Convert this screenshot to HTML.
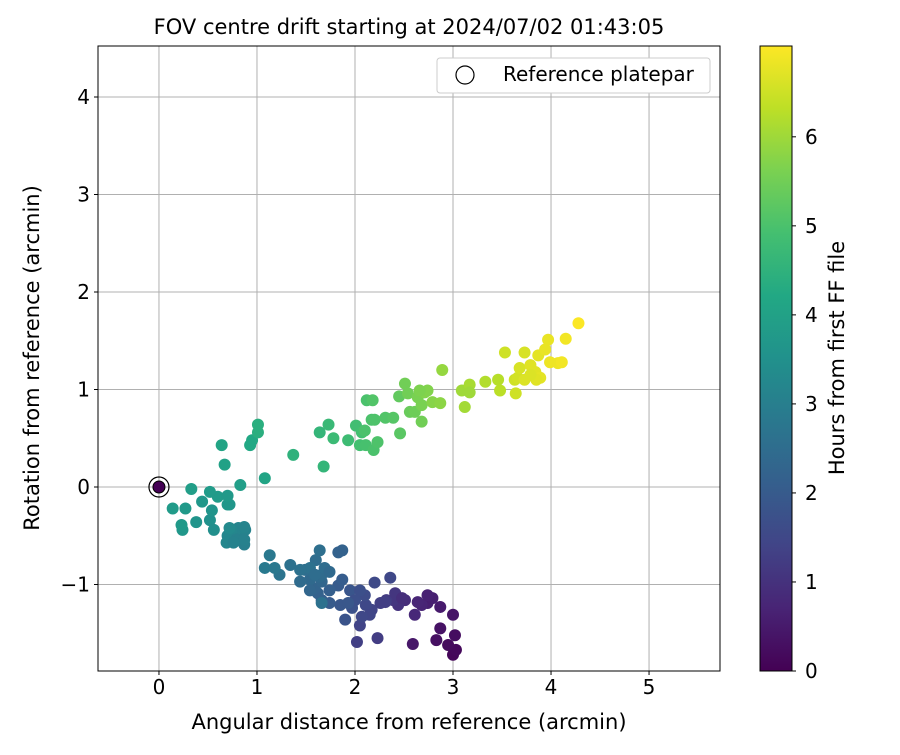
<!DOCTYPE html>
<html><head><meta charset="utf-8">
<style>
body{margin:0;background:#fff;}
svg text{font-family:"DejaVu Sans","Liberation Sans",sans-serif;fill:#000;}
</style></head>
<body>
<svg id="chart" width="900" height="750" xmlns="http://www.w3.org/2000/svg">
<defs>
<linearGradient id="vir" x1="0" y1="1" x2="0" y2="0">
<stop offset="0" stop-color="#440154"/><stop offset="0.1" stop-color="#482475"/><stop offset="0.2" stop-color="#414487"/><stop offset="0.3" stop-color="#355f8d"/><stop offset="0.4" stop-color="#2a788e"/><stop offset="0.5" stop-color="#21918c"/><stop offset="0.6" stop-color="#22a884"/><stop offset="0.7" stop-color="#44bf70"/><stop offset="0.8" stop-color="#7ad151"/><stop offset="0.9" stop-color="#bddf26"/><stop offset="1" stop-color="#fde725"/>
</linearGradient>
<clipPath id="clip"><rect x="98" y="46" width="622" height="625"/></clipPath>
</defs>
<text x="409" y="34" font-size="21" text-anchor="middle">FOV centre drift starting at 2024/07/02 01:43:05</text>
<g id="grid"></g>
<g id="points" clip-path="url(#clip)"></g>
<rect x="98" y="46" width="622" height="625" fill="none" stroke="#000" stroke-width="1"/>
<g id="axes"></g>
<text x="409" y="729" font-size="21" text-anchor="middle">Angular distance from reference (arcmin)</text>
<text transform="translate(39,358) rotate(-90)" font-size="21" text-anchor="middle">Rotation from reference (arcmin)</text>
<g>
<rect x="437" y="58" width="273" height="35" rx="3" fill="#fff" stroke="#ccc"/>
<circle cx="465" cy="75" r="9" fill="none" stroke="#000" stroke-width="1.2"/>
<text x="503" y="81" font-size="20">Reference platepar</text>
</g>
<rect x="760" y="46" width="32" height="625" fill="url(#vir)" stroke="#000"/>
<g id="cbar"></g>
<text transform="translate(844,358) rotate(-90)" font-size="21" text-anchor="middle">Hours from first FF file</text>
</svg>
<script>
const xTicks=[0,1,2,3,4,5];
const yTicks=[-1,0,1,2,3,4];
const yTickLabels=["\u22121","0","1","2","3","4"];
const cTicks=[0,1,2,3,4,5,6];
const xVals=[3.00,3.03,2.95,3.02,2.83,2.87,3.00,2.74,2.59,2.79,2.68,2.64,2.74,2.87,2.51,2.44,2.39,2.32,2.26,2.41,2.17,2.11,2.02,2.05,2.23,2.15,2.07,2.10,2.20,2.31,2.36,1.90,1.97,1.85,1.95,2.05,2.00,2.61,2.48,
1.74,1.66,1.62,1.59,1.66,1.83,1.87,1.93,1.74,1.54,1.64,1.49,1.44,1.54,
1.34,1.60,1.64,1.83,1.87,1.66,1.23,1.13,1.08,1.18,1.66,1.54,1.69,1.74,1.59,1.44,
0.83,0.88,0.81,0.74,0.70,0.79,0.87,0.87,0.69,0.76,0.87,0.72,
0.38,0.52,0.56,0.24,0.23,0.14,0.27,0.44,0.54,0.60,0.70,0.72,0.70,0.83,0.67,0.64,0.93,0.95,1.08,0.33,0.52,
1.01,1.01,1.37,1.68,1.64,1.73,1.78,1.93,2.01,2.07,2.05,2.11,2.12,2.17,2.19,2.23,2.18,2.20,2.31,2.39,2.46,2.45,2.10,
2.51,2.54,2.56,2.61,2.64,2.68,2.71,2.74,2.66,2.79,2.87,2.89,2.68,3.09,3.12,3.17,3.33,3.48,3.46,3.17,
3.53,3.63,3.64,3.66,3.68,3.73,3.79,3.73,3.84,3.89,3.87,3.94,3.97,4.07,4.11,4.15,4.28,3.85,3.79,3.99];
const yVals=[-1.72,-1.67,-1.62,-1.52,-1.57,-1.45,-1.31,-1.19,-1.61,-1.14,-1.21,-1.18,-1.11,-1.23,-1.16,-1.21,-1.16,-1.16,-1.19,-1.09,-1.26,-1.21,-1.59,-1.42,-1.55,-1.31,-1.33,-1.11,-0.98,-1.18,-0.93,-1.36,-1.24,-1.21,-1.06,-1.06,-1.16,-1.31,-1.14,
-1.19,-1.16,-1.09,-1.04,-0.97,-1.01,-0.95,-1.19,-1.06,-0.95,-0.92,-0.85,-0.97,-1.06,
-0.80,-0.75,-0.65,-0.67,-0.65,-0.90,-0.90,-0.70,-0.83,-0.83,-1.19,-0.83,-0.83,-0.87,-0.90,-0.85,
-0.51,-0.44,-0.42,-0.44,-0.50,-0.54,-0.59,-0.54,-0.57,-0.57,-0.41,-0.42,
-0.36,-0.34,-0.44,-0.44,-0.39,-0.22,-0.22,-0.15,-0.24,-0.10,-0.18,-0.18,-0.09,0.02,0.23,0.43,0.43,0.48,0.09,-0.02,-0.05,
0.64,0.56,0.33,0.21,0.56,0.64,0.50,0.48,0.63,0.56,0.43,0.43,0.89,0.69,0.38,0.46,0.89,0.69,0.71,0.71,0.55,0.93,0.58,
1.06,0.96,0.77,0.77,0.92,0.84,0.97,0.99,0.99,0.87,0.86,1.20,0.67,0.99,0.82,1.05,1.08,0.99,1.10,0.97,
1.38,1.10,0.96,1.12,1.22,1.38,1.25,1.10,1.18,1.12,1.35,1.41,1.51,1.27,1.28,1.52,1.68,1.10,1.15,1.28];
const hours=[0.1,0.15,0.2,0.25,0.3,0.35,0.4,0.6,0.45,0.6,0.7,0.75,0.65,0.5,0.9,1.0,1.1,1.2,1.3,1.1,1.4,1.5,1.3,1.4,1.25,1.45,1.5,1.6,1.55,1.3,1.5,1.8,1.75,1.9,1.85,1.7,1.7,0.8,0.95,
2.0,2.1,2.2,2.25,2.3,2.0,2.05,1.9,2.1,2.4,2.4,2.5,2.45,2.3,
2.6,2.5,2.55,2.2,2.2,2.45,2.7,2.8,2.85,2.8,2.6,2.6,2.5,2.4,2.5,2.6,
3.1,3.1,3.15,3.2,3.2,3.05,3.0,3.05,3.2,3.1,3.15,3.3,
3.6,3.5,3.45,3.7,3.75,3.8,3.75,3.7,3.6,3.8,3.7,3.65,3.75,3.9,4.0,4.1,4.2,4.2,4.1,3.9,3.8,
4.4,4.4,4.5,4.6,4.6,4.7,4.75,4.8,4.85,4.9,4.9,4.95,5.0,5.0,5.0,5.05,5.1,5.05,5.1,5.15,5.2,5.3,5.0,
5.5,5.5,5.4,5.45,5.6,5.6,5.7,5.7,5.65,5.75,5.8,5.9,5.5,6.0,6.05,6.1,6.2,6.3,6.25,6.0,
6.5,6.5,6.5,6.55,6.6,6.6,6.7,6.65,6.7,6.75,6.75,6.8,6.8,6.85,6.9,6.9,7.0,6.7,6.65,6.85];
const refPoint=[0,0,0];

const X0=98,X1=720,Y0=46,Y1=671,xmin=-0.622,xmax=5.724,ymin=-1.887,ymax=4.523,hmax=7.02;
const sx=v=>X0+(v-xmin)/(xmax-xmin)*(X1-X0);
const sy=v=>Y1-(v-ymin)/(ymax-ymin)*(Y1-Y0);
const sc=v=>Y1-v/hmax*(Y1-Y0);
const stops=["#440154","#482475","#414487","#355f8d","#2a788e","#21918c","#22a884","#44bf70","#7ad151","#bddf26","#fde725"];
function hex(h){return [1,3,5].map(i=>parseInt(h.substr(i,2),16));}
function vir(t){t=Math.max(0,Math.min(1,t));const f=t*10,i=Math.min(9,Math.floor(f)),r=f-i;const a=hex(stops[i]),b=hex(stops[i+1]);return "rgb("+a.map((c,k)=>Math.round(c+(b[k]-c)*r)).join(",")+")";}
const NS="http://www.w3.org/2000/svg";
function mk(tag,attrs,parent){const e=document.createElementNS(NS,tag);for(const k in attrs)e.setAttribute(k,attrs[k]);parent.appendChild(e);return e;}
const grid=document.getElementById('grid'),axes=document.getElementById('axes'),pts=document.getElementById('points'),cb=document.getElementById('cbar');
xTicks.forEach(t=>{const x=sx(t);
 const g=mk('line',{x1:x,x2:x,y1:Y0,y2:Y1,stroke:'#b0b0b0','stroke-width':1},grid);
 
 
 mk('line',{x1:x,x2:x,y1:Y1,y2:Y1+4,stroke:'#000'},axes);
 const l=mk('text',{x:x,y:Y1+23,'font-size':20,'text-anchor':'middle'},axes);l.textContent=t;
 
 });
yTicks.forEach((t,i)=>{const y=sy(t);
 const g=mk('line',{x1:X0,x2:X1,y1:y,y2:y,stroke:'#b0b0b0','stroke-width':1},grid);
 
 
 mk('line',{x1:X0-4,x2:X0,y1:y,y2:y,stroke:'#000'},axes);
 const l=mk('text',{x:X0-8,y:y+7,'font-size':20,'text-anchor':'end'},axes);l.textContent=yTickLabels[i];
 
 });
cTicks.forEach(t=>{const y=sc(t);
 mk('line',{x1:792,x2:796,y1:y,y2:y,stroke:'#000'},cb);
 const l=mk('text',{x:805,y:y+7,'font-size':20},cb);l.textContent=t;
 
 });
xVals.forEach((v,i)=>{const c=mk('circle',{cx:sx(v),cy:sy(yVals[i]),r:6,fill:vir(hours[i]/hmax)},pts);
 
 });
const rp=mk('circle',{cx:sx(refPoint[0]),cy:sy(refPoint[1]),r:6,fill:vir(refPoint[2]/hmax),stroke:'#000','stroke-width':1},pts);


const ro=mk('circle',{cx:sx(refPoint[0]),cy:sy(refPoint[1]),r:10,fill:'none',stroke:'#000','stroke-width':1.2},pts);


</script>
</body></html>
